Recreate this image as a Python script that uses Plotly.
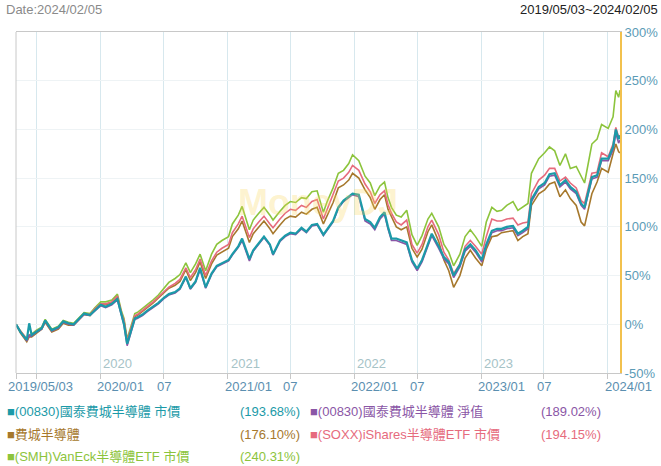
import plotly.graph_objects as go

dates = [
"2019-05-03","2019-05-16","2019-06-03","2019-06-10","2019-06-17","2019-07-01","2019-07-16","2019-07-26","2019-08-14","2019-09-02",
"2019-09-16","2019-10-01","2019-10-16","2019-11-01","2019-11-15","2019-12-02","2019-12-16","2020-01-02","2020-01-16","2020-02-03",
"2020-02-19","2020-03-02","2020-03-09","2020-03-18","2020-04-01","2020-04-09","2020-04-16","2020-05-01","2020-05-15","2020-06-01",
"2020-06-16","2020-07-01","2020-07-16","2020-08-03","2020-08-17","2020-09-03","2020-09-16","2020-10-01","2020-10-14","2020-10-30",
"2020-11-16","2020-12-01","2020-12-16","2021-01-04","2021-01-15","2021-02-01","2021-02-12","2021-03-05","2021-03-16","2021-04-01",
"2021-04-16","2021-05-03","2021-05-12","2021-06-01","2021-06-16","2021-07-01","2021-07-16","2021-08-02","2021-08-16","2021-09-01",
"2021-09-16","2021-10-04","2021-10-15","2021-11-01","2021-11-16","2021-12-01","2021-12-16","2021-12-27","2022-01-14","2022-02-01",
"2022-02-16","2022-03-01","2022-03-16","2022-03-29","2022-04-08","2022-04-18","2022-05-02","2022-05-16","2022-06-01","2022-06-16",
"2022-07-01","2022-07-15","2022-08-01","2022-08-12","2022-09-01","2022-09-16","2022-09-30","2022-10-14","2022-11-01","2022-11-16",
"2022-12-01","2022-12-16","2023-01-03","2023-01-16","2023-02-01","2023-02-16","2023-03-01","2023-03-16","2023-04-03","2023-04-17",
"2023-05-01","2023-05-16","2023-05-26","2023-06-16","2023-07-03","2023-07-17","2023-08-01","2023-08-16","2023-09-01","2023-09-15",
"2023-10-02","2023-10-16","2023-10-26","2023-11-16","2023-12-01","2023-12-14","2024-01-02","2024-01-16","2024-01-24","2024-02-01",
"2024-02-05"]

# (00830) 國泰費城半導體 市價
etf_price = [
0,-8,-16,1,-11,-8,-4,4,-6,-3,
3,1,0,6,11,9.5,14.6,20,18,21,
26,8,0,-20,-4,6,7,10,14,18,
22,27,31,33,37,49,37,44,58,38,
52,60,63,66,72,80,88,67,76,83,
90,82,72,86,91,94,93,99,95,102,
103,92,98,106,120,127,131,134,133,108,
105,99,110,115,100,88,88,86,84,66,
57,66,83,93,80,69,64,50,61,77,
82,76,66,82,96,98,98,100,101,93,
96,100,128,141,145,154,155,143,148,141,
136,124,120,151,153,170,170,182,200,190,
193.68]

# (00830) 國泰費城半導體 淨值
etf_nav = [
0,-8,-17,-11,-12,-8,-5,3,-7,-4,
2,0,-1,5,10,9,14,19,17,20,
25,7,-1,-22,-5,5,6,9,13,17,
21,26,30,32,36,48,36,43,56,37,
51,59,62,65,71,79,86,65,75,82,
89,81,71,85,90,93,92,98,94,101,
102,91,97,105,119,126,130,133,131,106,
103,97,108,113,98,86,86,84,82,64,
55,64,81,91,78,67,62,48,59,75,
80,74,64,80,94,96,96,98,99,91,
94,98,126,139,143,152,153,141,146,139,
134,122,118,149,151,168,168,179,196,186,
189.02]

# 費城半導體
sox_index = [
0,-9,-18,-13,-13,-9,-5,2,-8,-5,
1,-1,-1,5,10,9,15,20,20,22,
28,10,3,-18,-2,8,9,13,17,22,
27,32,37,40,44,56,45,53,64,47,
62,71,74,78,90,98,106,84,93,100,
106,98,93,102,108,111,110,115,113,118,
120,103,112,125,140,143,148,155,150,138,
130,118,128,133,118,110,100,97,100,78,
69,77,95,102,85,66,55,38,50,68,
76,68,60,77,90,91,94,95,96,86,
90,93,122,134,138,144,146,131,138,129,
122,105,101,134,146,160,156,175,185,177,
176.10]

# (SOXX) iShares 半導體ETF 市價
soxx = [
0,-7,-15,-12,-11,-7,-4,4,-6,-3,
3,1,0,6,11,10,16,21,21,23,
29,11,4,-17,-1,9,10,14,18,23,
28,33,38,42,46,58,48,56,67,50,
65,74,78,82,94,103,111,89,98,105,
111,103,99,108,114,118,117,122,120,126,
128,108,118,132,147,150,156,163,158,144,
136,124,133,137,123,114,105,102,107,82,
73,82,100,107,92,74,66,52,62,80,
86,80,72,90,108,106,106,108,109,102,
104,105,134,148,153,160,160,147,151,145,
140,127,124,155,156,176,172,185,202,192,
194.15]

# (SMH) VanEck 半導體ETF 市價
smh = [
0,-7,-15,-11,-10,-6,-3,5,-5,-2,
4,2,1,7,12,11,17,23,23,25,
31,13,6,-15,1,11,12,16,20,25,
30,36,43,47,51,63,53,62,72,55,
72,82,86,90,103,112,121,97,107,114,
120,112,107,116,122,126,125,130,129,136,
137,115,126,140,155,158,165,174,168,152,
145,132,142,146,130,120,112,110,117,92,
81,91,108,114,100,82,74,60,72,90,
97,90,80,105,120,116,117,122,126,117,
120,124,155,170,176,182,178,163,175,160,
162,151,145,185,190,205,201,213,240,233,
240.31]

names = ["(00830)國泰費城半導體 市價", "(00830)國泰費城半導體 淨值", "費城半導體",
         "(SOXX)iShares半導體ETF 市價", "(SMH)VanEck半導體ETF 市價"]
finals = ["(193.68%)", "(189.02%)", "(176.10%)", "(194.15%)", "(240.31%)"]
colors = ["#1b9aa8", "#8a56a6", "#a6782c", "#e66b7d", "#8cc43c"]

tick_dates = ["2019-05-03", "2019-07-01", "2020-01-01", "2020-07-01", "2021-01-01", "2021-07-01",
              "2022-01-01", "2022-07-01", "2023-01-01", "2023-07-01", "2024-01-01"]
tick_labels = ["2019/05/03", "", "2020/01", "07", "2021/01", "07", "2022/01", "07", "2023/01", "07", "2024/01"]
year_dates = ["2020-01-01", "2021-01-01", "2022-01-01", "2023-01-01"]
year_labels = ["2020", "2021", "2022", "2023"]
y_ticks = [-50, 0, 50, 100, 150, 200, 250, 300]

FONT = "Liberation Sans, Arial, Noto Sans CJK TC, sans-serif"

series = [etf_price, etf_nav, sox_index, soxx, smh]
fig = go.Figure()
for i in [4, 2, 3, 1, 0]:
    fig.add_trace(go.Scatter(
        x=dates, y=series[i], mode="lines", name=names[i],
        line=dict(color=colors[i], width=2.2 if i == 0 else 1.6),
        hoverinfo="skip", showlegend=False))

W, H = 661, 466
L, R, T, B = 16, 41, 32, 93
pw, ph = W - L - R, H - T - B

def px(xp):
    return (xp - L) / pw

def py(yp):
    return (H - B - yp) / ph

ann = []
# x tick labels
for d, lab in zip(tick_dates, tick_labels):
    if not lab:
        continue
    if lab == "07":
        ann.append(dict(x=d, xref="x", y=0, yref="paper", text=lab, showarrow=False,
                        xanchor="center", yanchor="top", yshift=-4,
                        font=dict(size=13, color="#5b8fb0", family=FONT)))
    else:
        shift = -10 if lab == "2019/05/03" else -5
        ann.append(dict(x=d, xref="x", y=0, yref="paper", text=lab, showarrow=False,
                        xanchor="left", yanchor="top", yshift=-4, xshift=shift,
                        font=dict(size=13, color="#5b8fb0", family=FONT)))
# year labels inside plot
for d, lab in zip(year_dates, year_labels):
    ann.append(dict(x=d, xref="x", y=-50, yref="y", text=lab, showarrow=False,
                    xanchor="left", yanchor="bottom", xshift=1, yshift=0,
                    font=dict(size=13, color="#a6c3c7", family=FONT)))
# header texts
ann.append(dict(x=px(4), y=py(9), xref="paper", yref="paper", text="Date:2024/02/05",
                showarrow=False, xanchor="left", yanchor="middle",
                font=dict(size=13, color="#8a8a8a", family=FONT)))
ann.append(dict(x=px(660), y=py(9), xref="paper", yref="paper", text="2019/05/03~2024/02/05",
                showarrow=False, xanchor="right", yanchor="middle",
                font=dict(size=13, color="#222222", family=FONT)))
# watermark
ann.append(dict(x=0.5, y=0.5, xref="paper", yref="paper", text="<b>MoneyDJ</b>",
                showarrow=False, xanchor="center", yanchor="middle",
                font=dict(size=36, color="rgba(250,214,90,0.3)", family=FONT)))
# legend
rows = [(0, px(5), px(302), py(412)), (1, px(308), px(603), py(412)),
        (2, px(5), px(302), py(434)), (3, px(308), px(603), py(434)),
        (4, px(5), px(302), py(456))]
for i, xl, xr, yy in rows:
    ann.append(dict(x=xl, y=yy, xref="paper", yref="paper", text="■" + names[i],
                    showarrow=False, xanchor="left", yanchor="middle",
                    font=dict(size=13, color=colors[i], family=FONT)))
    ann.append(dict(x=xr, y=yy, xref="paper", yref="paper", text=finals[i],
                    showarrow=False, xanchor="right", yanchor="middle",
                    font=dict(size=13, color=colors[i], family=FONT)))

shapes = [dict(type="line", xref="paper", yref="paper", x0=0, x1=0, y0=0, y1=1,
               line=dict(color="#c8c8c8", width=1))]

fig.update_layout(
    width=W, height=H,
    margin=dict(l=L, r=R, t=T, b=B, autoexpand=False),
    paper_bgcolor="white", plot_bgcolor="white",
    font=dict(family=FONT, size=13),
    showlegend=False,
    annotations=ann,
    shapes=shapes,
    xaxis=dict(type="date", range=["2019-05-03", "2024-02-05"],
               tickvals=tick_dates, showticklabels=False, automargin=False,
               showgrid=True, gridcolor="#d7e8ee", gridwidth=1,
               ticks="outside", ticklen=5, tickcolor="#c8c8c8",
               showline=True, linecolor="#c8c8c8", linewidth=1, mirror=True,
               zeroline=False, fixedrange=True),
    yaxis=dict(side="right", range=[-50, 300], tickvals=y_ticks,
               ticktext=[f"{v}%" for v in y_ticks], automargin=False,
               showgrid=True, gridcolor="#eef3f5", gridwidth=1,
               showline=True, linecolor="#f2c14e", linewidth=2,
               ticks="", zeroline=False,
               tickfont=dict(size=13, color="#5b9bb6", family=FONT),
               fixedrange=True),
)

fig.write_html("out.html", config={"displayModeBar": False},
               post_script="document.body.style.margin='0';document.body.style.overflow='hidden';")
